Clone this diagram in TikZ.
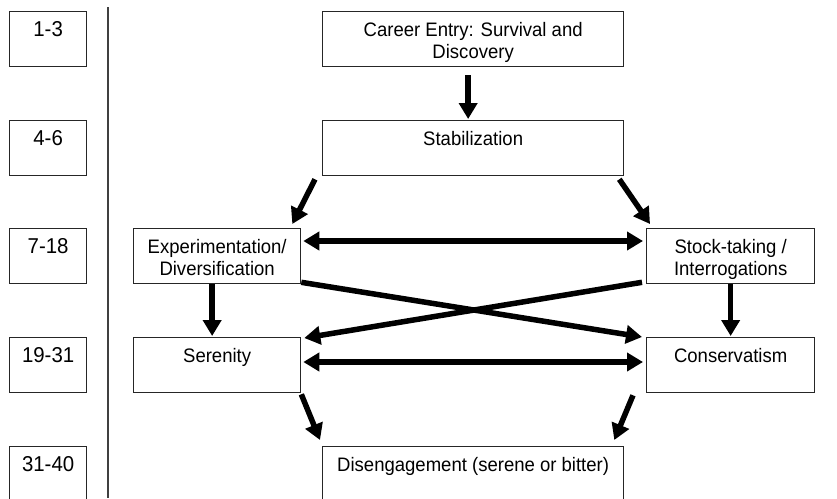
\documentclass[tikz,border=0pt]{standalone}
\usepackage{fontspec}
\setmainfont[FakeStretch=0.95]{Liberation Sans}
\usetikzlibrary{arrows.meta,calc}

% box text: fixed height, first line at the top
\newcommand{\stagetxt}[2]{\parbox[c][55pt][t]{#1}{\centering\rule{0pt}{25pt}#2}}

\begin{document}
\begin{tikzpicture}[x=1pt,y=-1pt,
    box/.style={draw=black!85, line width=1.3pt, anchor=north west, inner sep=0pt,
      font=\fontsize{19.5}{22}\selectfont},
    yearbox/.style={box, font=\fontsize{21.5}{22}\selectfont},
    flow/.style={line width=5.5pt, -{Triangle[length=16pt,width=18pt]}},
    both/.style={line width=5.5pt, {Triangle[length=16pt,width=18pt]}-{Triangle[length=16pt,width=18pt]}}]
  \clip (0,0) rectangle (837,498);
  \fill[white] (0,0) rectangle (837,498);

  % years in teaching
  \node[yearbox] (y1) at (9,11) {\stagetxt{77pt}{1-3}};
  \node[yearbox] (y2) at (9,120) {\stagetxt{77pt}{4-6}};
  \node[yearbox] (y3) at (9,228) {\stagetxt{77pt}{7-18}};
  \node[yearbox] (y4) at (9,337) {\stagetxt{77pt}{19-31}};
  \node[yearbox] (y5) at (9,446) {\stagetxt{77pt}{31-40}};
  \draw[line width=1.3pt, black!75] (108,7) -- (108,498);

  % phases
  \node[box] (entry) at (322,11) {\stagetxt{301pt}{Career Entry: Survival and\\Discovery}};
  \node[box] (stab) at (322,120) {\stagetxt{301pt}{Stabilization}};
  \node[box] (exper) at (133,228) {\stagetxt{167pt}{Experimentation/\\Diversification}};
  \node[box] (stock) at (646,228) {\stagetxt{168pt}{Stock-taking /\\Interrogations}};
  \node[box] (seren) at (133,337) {\stagetxt{167pt}{Serenity}};
  \node[box] (conserv) at (646,337) {\stagetxt{168pt}{Conservatism}};
  \node[box] (diseng) at (322,446) {\stagetxt{301pt}{Disengagement (serene or bitter)}};

  \draw[flow] ($(entry.south)+(-5,8)$) -- ($(stab.north)+(-5,-1)$);
  \draw[flow] ($(stab.south west)+(-7,3)$) -- ($(exper.north east)+(-9,-4)$);
  \draw[flow] ($(stab.south east)+(-5,3)$) -- ($(stock.north west)+(4,-4)$);
  \draw[both] ($(exper.north east)+(2,13)$) -- ($(stock.north west)+(-3,13)$);
  \draw[flow] ($(exper.south)+(-5,0)$) -- ($(seren.north)+(-5,-1)$);
  \draw[flow] (stock.south) -- ($(conserv.north)+(0,-1)$);
  \draw[flow] ($(exper.south east)+(0,-2)$) -- ($(conserv.north west)+(-4,0)$);
  \draw[flow] ($(stock.south west)+(-4,-2)$) -- ($(seren.north east)+(3,1)$);
  \draw[both] ($(seren.north east)+(2,25)$) -- ($(conserv.north west)+(-3,25)$);
  \draw[flow] ($(seren.south east)+(0,1)$) -- ($(diseng.north west)+(-2,-6)$);
  \draw[flow] ($(conserv.south west)+(-13,2)$) -- ($(diseng.north east)+(-10,-6)$);
\end{tikzpicture}
\end{document}
